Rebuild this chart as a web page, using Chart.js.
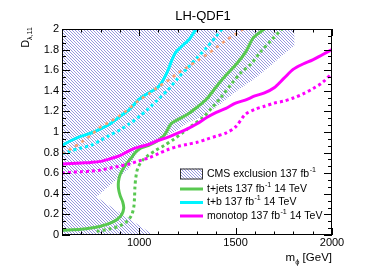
<!DOCTYPE html>
<html><head><meta charset="utf-8">
<script src="https://cdn.jsdelivr.net/npm/chart.js@4.4.1/dist/chart.umd.min.js"></script>
<style>html,body{margin:0;padding:0;background:#fff;}canvas{display:block;}</style>
</head><body>
<canvas id="c" width="390" height="280"></canvas>
<script>
const FONT = "'Liberation Sans', Arial, Helvetica, sans-serif";

// ---- axis / labels ----
const chartTitle = 'LH-QDF1';
const xLabelValues = [1000, 1500, 2000];

// ---- t+b 137 fb-1 14 TeV (cyan, solid) ----
const tbSolidX = [600, 650, 700, 750, 800, 850, 900, 950, 1000, 1050, 1100, 1140, 1185, 1220, 1260, 1295];
const tbSolidY = [0.87, 0.92, 0.96, 0.99, 1.03, 1.08, 1.15, 1.22, 1.32, 1.38, 1.44, 1.56, 1.76, 1.83, 1.90, 2.00];
// ---- t+b (cyan, dotted) ----
const tbDotX = [600, 650, 700, 750, 800, 850, 900, 950, 1000, 1050, 1100, 1150, 1200, 1250, 1300, 1350, 1400, 1430];
const tbDotY = [0.79, 0.82, 0.845, 0.87, 0.92, 0.97, 1.02, 1.08, 1.15, 1.23, 1.32, 1.41, 1.52, 1.62, 1.72, 1.82, 1.93, 2.00];
// ---- orange dotted ----
const orangeX = [600, 650, 700, 750, 800, 850, 900, 950, 1000, 1050, 1100, 1150, 1200, 1250, 1300, 1350, 1400, 1450, 1500, 1540];
const orangeY = [0.79, 0.84, 0.90, 0.97, 1.05, 1.10, 1.16, 1.23, 1.31, 1.37, 1.44, 1.50, 1.57, 1.63, 1.69, 1.75, 1.82, 1.89, 1.95, 2.00];
// ---- t+jets (green, solid) ----
const tjSolidX = [600, 700, 760, 800, 850, 885, 910, 920, 915, 902, 893, 893, 902, 922, 955, 985, 1010, 1050, 1100, 1135, 1165, 1200, 1250, 1300, 1350, 1400, 1450, 1500, 1550, 1590, 1620, 1650];
const tjSolidY = [0.045, 0.055, 0.07, 0.085, 0.115, 0.15, 0.20, 0.26, 0.32, 0.38, 0.45, 0.52, 0.59, 0.66, 0.74, 0.81, 0.845, 0.87, 0.92, 0.98, 1.08, 1.12, 1.17, 1.24, 1.32, 1.44, 1.55, 1.65, 1.77, 1.91, 1.96, 2.00];
// ---- t+jets (green, dotted) ----
const tjDotX = [780, 850, 900, 935, 960, 972, 976, 978, 983, 993, 1015, 1045, 1085, 1130, 1180, 1230, 1280, 1330, 1380, 1430, 1480, 1530, 1580, 1630, 1685, 1740];
const tjDotY = [0.035, 0.06, 0.09, 0.13, 0.19, 0.27, 0.36, 0.46, 0.56, 0.65, 0.72, 0.77, 0.82, 0.87, 0.93, 1.00, 1.07, 1.14, 1.24, 1.35, 1.47, 1.58, 1.66, 1.78, 1.89, 2.00];
// ---- monotop (magenta) ----
const monoX = [600, 650, 700, 750, 800, 850, 900, 950, 1000, 1050, 1100, 1150, 1200, 1250, 1300, 1350, 1400, 1450, 1500, 1550, 1600, 1650, 1700, 1750, 1800, 1850, 1900, 1950, 2000];
const monoSolidY = [0.69, 0.695, 0.70, 0.705, 0.715, 0.74, 0.77, 0.82, 0.855, 0.88, 0.92, 0.95, 0.99, 1.03, 1.08, 1.14, 1.19, 1.23, 1.28, 1.31, 1.35, 1.38, 1.43, 1.52, 1.61, 1.66, 1.70, 1.75, 1.80];
const monoDotY = [0.60, 0.61, 0.615, 0.62, 0.63, 0.65, 0.67, 0.69, 0.72, 0.75, 0.79, 0.83, 0.86, 0.88, 0.90, 0.93, 0.96, 0.99, 1.05, 1.17, 1.22, 1.25, 1.28, 1.30, 1.33, 1.37, 1.42, 1.48, 1.57];
// ---- CMS exclusion 137 fb-1 (hatched region outline) ----
const cmsX = [600, 1075, 779, 950, 990, 1050, 1100, 1200, 1250, 1330, 1420, 1500, 1600, 1680, 1740, 1805, 1805, 600, 600];
const cmsY = [0, 0, 0.37, 0.65, 0.80, 0.87, 0.93, 1.02, 1.09, 1.15, 1.27, 1.39, 1.52, 1.64, 1.74, 1.84, 2.00, 2.00, 0];

// ---- legend ----
const legendText = ['CMS exclusion 137 fb', 't+jets 137 fb', 't+b 137 fb', 'monotop 137 fb'];
const legendTail = ['', ' 14 TeV', ' 14 TeV', ' 14 TeV'];

const GREEN = '#58c850', CYAN = '#00f4ff', MAG = '#ff00ff', ORANGE = '#f8a070';

function pts(xs, ys) { return xs.map((x, i) => ({ x: x, y: ys[i] })); }

const mainCtx = document.getElementById('c').getContext('2d');
function makeHatch() {
  const t = document.createElement('canvas'); t.width = 3; t.height = 3;
  const g = t.getContext('2d');
  g.strokeStyle = 'rgb(150,150,224)'; g.lineWidth = 1;
  g.beginPath();
  g.moveTo(-1, -1); g.lineTo(4, 4);
  g.moveTo(-1, 2); g.lineTo(1, 4);
  g.moveTo(2, -1); g.lineTo(4, 1);
  g.stroke();
  return mainCtx.createPattern(t, 'repeat');
}
const hatch = makeHatch();

function drawRich(ctx, x, y, main, sup, tail, size) {
  ctx.font = size + 'px ' + FONT;
  ctx.fillText(main, x, y);
  x += ctx.measureText(main).width + 0.5;
  ctx.font = (size * 0.68) + 'px ' + FONT;
  ctx.fillText(sup, x, y - size * 0.38);
  x += ctx.measureText(sup).width;
  ctx.font = size + 'px ' + FONT;
  ctx.fillText(tail, x, y);
}

const decor = {
  id: 'decor',
  afterDraw(chart) {
    const ctx = chart.ctx, a = chart.chartArea, xs = chart.scales.x, ys = chart.scales.y;
    ctx.save();
    ctx.strokeStyle = '#000'; ctx.lineWidth = 1;
    ctx.strokeRect(Math.round(a.left) + 0.5, Math.round(a.top) + 0.5, Math.round(a.right - a.left) - 1, Math.round(a.bottom - a.top) - 1);
    ctx.beginPath();
    for (let v = xs.min; v <= xs.max; v += 100) {
      const px = Math.round(xs.getPixelForValue(v)) + 0.5;
      const L = v % 500 === 0 ? 7 : 3.5;
      ctx.moveTo(px, a.bottom); ctx.lineTo(px, a.bottom - L);
      ctx.moveTo(px, a.top); ctx.lineTo(px, a.top + L);
    }
    for (let i = 0; i <= 30; i++) {
      const py = Math.round(ys.getPixelForValue(i * 2 / 30)) + 0.5;
      const L = i % 3 === 0 ? 8 : 4;
      ctx.moveTo(a.left, py); ctx.lineTo(a.left + L, py);
      ctx.moveTo(a.right, py); ctx.lineTo(a.right - L, py);
    }
    ctx.stroke();

    ctx.fillStyle = '#000';
    // title
    ctx.font = '13px ' + FONT; ctx.textAlign = 'center'; ctx.textBaseline = 'alphabetic';
    ctx.fillText(chartTitle, 203, 19.5);
    // x title
    ctx.textAlign = 'left';
    ctx.font = '11.5px ' + FONT;
    const wG = ctx.measureText(' [GeV]').width;
    ctx.font = '7.5px ' + FONT;
    const wS = ctx.measureText('\u03d5').width;
    ctx.font = '11.5px ' + FONT;
    const wM = ctx.measureText('m').width;
    let xx = a.right - wG - wS - wM;
    ctx.fillText('m', xx, 261); xx += wM;
    ctx.font = '7.5px ' + FONT; ctx.fillText('\u03d5', xx, 264); xx += wS;
    ctx.font = '11.5px ' + FONT; ctx.fillText(' [GeV]', xx, 261);
    // y title
    ctx.save();
    ctx.translate(28.5, 47.5); ctx.rotate(-Math.PI / 2);
    ctx.font = '10.5px ' + FONT; ctx.fillText('D', 0, 0);
    const wD = ctx.measureText('D').width;
    ctx.font = '7px ' + FONT; ctx.fillText('\u03bb,11', wD, 3);
    ctx.restore();

    // legend
    const rows = [174, 189, 202.5, 216];
    const colors = [null, GREEN, CYAN, MAG];
    const lx0 = 180, lx1 = 203, tx = 207;
    ctx.textBaseline = 'middle';
    rows.forEach((ry, i) => {
      if (i === 0) {
        ctx.fillStyle = hatch; ctx.fillRect(lx0, ry - 5.5, lx1 - lx0, 11);
        ctx.strokeStyle = '#333'; ctx.lineWidth = 1;
        ctx.strokeRect(lx0 + 0.5, ry - 5.5 + 0.5, lx1 - lx0 - 1, 10);
      } else {
        ctx.strokeStyle = colors[i]; ctx.lineWidth = 3;
        ctx.beginPath(); ctx.moveTo(lx0, ry); ctx.lineTo(lx1, ry); ctx.stroke();
      }
      ctx.fillStyle = '#000';
      drawRich(ctx, tx, ry, legendText[i], '-1', legendTail[i], 10.5);
    });
    ctx.restore();
  }
};

const lineBase = { showLine: true, pointRadius: 0, fill: false, tension: 0.3, borderCapStyle: 'butt' };
new Chart(mainCtx, {
  type: 'scatter',
  data: {
    datasets: [
      Object.assign({ label: 'orange', data: pts(orangeX, orangeY), borderColor: ORANGE, borderWidth: 2.6, borderDash: [3, 4.5], order: 0 }, lineBase),
      Object.assign({ label: 'monotop', data: pts(monoX, monoSolidY), borderColor: MAG, borderWidth: 3, order: 1 }, lineBase),
      Object.assign({ label: 'monotop dotted', data: pts(monoX, monoDotY), borderColor: MAG, borderWidth: 3, borderDash: [3, 3], order: 2 }, lineBase),
      Object.assign({ label: 't+jets', data: pts(tjSolidX, tjSolidY), borderColor: GREEN, borderWidth: 3, order: 3 }, lineBase),
      Object.assign({ label: 't+jets dotted', data: pts(tjDotX, tjDotY), borderColor: GREEN, borderWidth: 3, borderDash: [3, 3], order: 4 }, lineBase),
      Object.assign({ label: 't+b', data: pts(tbSolidX, tbSolidY), borderColor: CYAN, borderWidth: 3, order: 5 }, lineBase),
      Object.assign({ label: 't+b dotted', data: pts(tbDotX, tbDotY), borderColor: CYAN, borderWidth: 3, borderDash: [3, 3], order: 6 }, lineBase),
      { label: 'CMS exclusion', data: pts(cmsX, cmsY), showLine: true, pointRadius: 0, tension: 0,
        borderColor: 'rgba(0,0,0,0)', borderWidth: 1, backgroundColor: hatch, fill: 'shape', order: 100 }
    ]
  },
  options: {
    responsive: false, animation: false, devicePixelRatio: 1, events: [],
    layout: { padding: { top: 29, right: 58, left: 0, bottom: 0 } },
    plugins: { legend: { display: false }, tooltip: { enabled: false }, title: { display: false } },
    scales: {
      x: {
        type: 'linear', min: 600, max: 2000,
        afterFit(s) { s.height = 45; },
        grid: { display: false, drawTicks: false }, border: { display: false },
        ticks: { stepSize: 100, autoSkip: false, maxRotation: 0, padding: 1, color: '#000',
          font: { family: FONT, size: 11 },
          callback: v => xLabelValues.includes(v) ? String(v) : '' }
      },
      y: {
        type: 'linear', min: 0, max: 2,
        afterFit(s) { s.width = 62; },
        grid: { display: false, drawTicks: false }, border: { display: false },
        ticks: { stepSize: 0.2, padding: 3, color: '#000', font: { family: FONT, size: 11 },
          callback: v => String(+v.toFixed(1)) }
      }
    }
  },
  plugins: [decor]
});
</script>
</body></html>
